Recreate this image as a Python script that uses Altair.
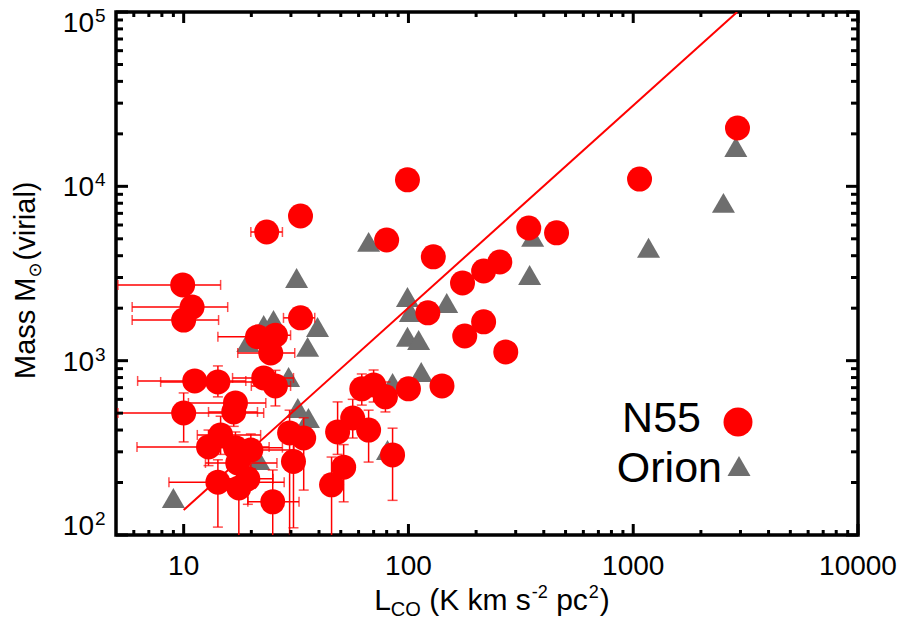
import altair as alt
import pandas as pd

# ---------------------------------------------------------------- data
# N55 clumps: CO luminosity and virial mass, with error ranges (None = no bar)
n55_L = [9.9, 10.9, 10.0, 23.4, 33.1, 80, 99, 129, 174, 216, 255, 343, 456, 1067, 2910,
         122, 216, 178, 271, 141, 100, 79, 70, 62, 33.1, 21.3, 25.6, 24.4, 22.7, 25.6,
         11.2, 14.2, 17.0, 16.7, 10.0, 14.6, 12.9, 17.0, 19.9, 17.4, 19.3, 14.2, 17.6,
         24.9, 30.8, 29.6, 34.2, 48.4, 56.5, 66.5, 85, 51.5, 45.5]
n55_M = [2720, 2030, 1710, 5470, 6760, 4920, 10900, 3940, 2790, 3270, 3680, 5770, 5410, 11000, 21600,
         1880, 1670, 1385, 1122, 716, 689, 620, 726, 689, 1760, 1370, 1400, 1107, 796, 716,
         765, 755, 572, 508, 501, 375, 320, 317, 307, 259, 210, 201, 186,
         155, 264, 385, 360, 390, 469, 400, 288, 245, 194]
n55_L_lo = [5.1, 5.9, 5.9, 19.9, None, None, None, None, None, None, None, None, None, None, None,
            None, None, None, None, None, None, None, None, None, 27.8, 14.2, 19.9, 17.4, 16.5, 20.0,
            6.24, 7.9, 10.5, 12.9, 5.1, 11.5, 6.2, 14.2, 15.7, 12.5, 15.0, 8.6, None,
            19.3, None, None, None, None, None, None, None, None, None]
n55_L_hi = [14.6, 15.7, 14.3, 27.5, None, None, None, None, None, None, None, None, None, None, None,
            None, None, None, None, None, None, None, None, None, 38.3, 28.4, 29.9, 31.2, 30.8, 29.9,
            18.9, 20.9, 23.2, 21.3, 22.7, 22.0, 24.0, 27.5, 31.0, 26.0, 25.0, 28.0, None,
            32.6, None, None, None, None, None, None, None, None, None]
n55_M_lo = [None, None, None, None, None, None, None, None, None, None, None, None, None, None, None,
            None, None, None, None, None, None, 508, 580, 556, None, None, None, None, None, 550,
            None, 620, None, 420, 342, 290, 250, 260, 240, 200, 150, 111, 80,
            80, 110, 80, 181, 290, 360, 262, 158, 155, 80]
n55_M_hi = [None, None, None, None, None, None, None, None, None, None, None, None, None, None, None,
            None, None, None, None, None, None, 755, 885, 839, None, None, None, None, None, 880,
            None, 933, None, 620, 653, 480, 400, 390, 380, 330, 270, 270, 260,
            236, 400, 520, 470, 580, 600, 520, 410, 330, 280]

# Orion clouds
orion_L = [2860, 2520, 1170, 66.5, 357, 346, 31.8, 99, 148, 102, 99, 111, 114,
           39.4, 35.6, 25.1, 22.7, 19.3, 29.3, 32.2, 35.9, 21.6, 80.7, 9.0, 85]
orion_M = [16800, 8040, 4440, 4800, 5130, 3100, 2980, 2320, 2140, 1900, 1370, 1315, 861,
           1560, 1200, 1710, 1600, 1280, 806, 535, 469, 269, 307, 163, 745]

# Fitted relation
fit_L = [10, 2900]
fit_M = [139, 100000]

# Axis ticks and labels
x_major = [10, 100, 1000, 10000]
x_labels = ["10", "100", "1000", "10000"]
x_minor = [6, 7, 8, 9, 20, 30, 40, 50, 60, 70, 80, 90, 200, 300, 400, 500, 600, 700, 800, 900,
           2000, 3000, 4000, 5000, 6000, 7000, 8000, 9000]
y_major = [100, 1000, 10000, 100000]
y_exponents = ["2", "3", "4", "5"]
y_minor = [200, 300, 400, 500, 600, 700, 800, 900, 2000, 3000, 4000, 5000, 6000, 7000, 8000, 9000,
           20000, 30000, 40000, 50000, 60000, 70000, 80000, 90000]

# ---------------------------------------------------------------- layout
W, H = 742, 523
RED = "#ff0000"
GREY = "#6e6e6e"
FONT = "Liberation Sans"

xs = alt.Scale(type="log", domain=[5, 10000], nice=False)
ys = alt.Scale(type="log", domain=[100, 100000], nice=False)

n55 = pd.DataFrame({"L": n55_L, "M": n55_M, "Llo": n55_L_lo, "Lhi": n55_L_hi,
                    "Mlo": n55_M_lo, "Mhi": n55_M_hi})
hbar = n55.dropna(subset=["Llo", "Lhi"])
vbar = n55.dropna(subset=["Mlo", "Mhi"])
orion = pd.DataFrame({"L": orion_L, "M": orion_M})
fit = pd.DataFrame({"L": fit_L, "M": fit_M})
one = pd.DataFrame({"k": [0]})


def X(field):
    return alt.X(f"{field}:Q", scale=xs, axis=None)


def Y(field):
    return alt.Y(f"{field}:Q", scale=ys, axis=None)


layers = []

# Orion triangles
layers.append(alt.Chart(orion).mark_point(shape="triangle-up", filled=True, size=530,
                                           color=GREY, opacity=1, strokeWidth=0)
              .encode(x=X("L"), y=Y("M")))

# fitted line
layers.append(alt.Chart(fit).mark_line(color=RED, strokeWidth=2, clip=True)
              .encode(x=X("L"), y=Y("M")))

# horizontal error bars with end caps
layers.append(alt.Chart(hbar).mark_rule(color=RED, strokeWidth=1.5, clip=True)
              .encode(x=X("Llo"), x2="Lhi:Q", y=Y("M")))
for end in ["Llo", "Lhi"]:
    layers.append(alt.Chart(hbar).mark_tick(color=RED, orient="vertical", size=10,
                                            thickness=1.5, clip=True)
                  .encode(x=X(end), y=Y("M")))

# vertical error bars with end caps
layers.append(alt.Chart(vbar).mark_rule(color=RED, strokeWidth=1.5, clip=True)
              .encode(x=X("L"), y=Y("Mlo"), y2="Mhi:Q"))
for end in ["Mlo", "Mhi"]:
    layers.append(alt.Chart(vbar).mark_tick(color=RED, orient="horizontal", size=10,
                                            thickness=1.5, clip=True)
                  .encode(x=X("L"), y=Y(end)))

# N55 circles
layers.append(alt.Chart(n55).mark_circle(size=625, color=RED, opacity=1)
              .encode(x=X("L"), y=Y("M")))


# inward ticks on all four sides
def ticks(values, side, length):
    df = pd.DataFrame({"v": values})
    ch = alt.Chart(df).mark_rule(color="black", strokeWidth=3)
    if side == "bottom":
        return ch.encode(x=X("v"), y=alt.value(H), y2=alt.value(H - length))
    if side == "top":
        return ch.encode(x=X("v"), y=alt.value(0), y2=alt.value(length))
    if side == "left":
        return ch.encode(y=Y("v"), x=alt.value(0), x2=alt.value(length))
    return ch.encode(y=Y("v"), x=alt.value(W), x2=alt.value(W - length))


for side in ["bottom", "top"]:
    layers.append(ticks(x_major, side, 11))
    layers.append(ticks(x_minor, side, 5))
for side in ["left", "right"]:
    layers.append(ticks(y_major, side, 12))
    layers.append(ticks(y_minor, side, 7))

# x tick labels
xlab = pd.DataFrame({"v": x_major, "t": x_labels})
layers.append(alt.Chart(xlab).mark_text(font=FONT, fontSize=28, align="center",
                                        baseline="alphabetic", color="black")
              .encode(x=X("v"), y=alt.value(563), text="t:N"))

# y tick labels: "10" with a raised exponent; end labels kept inside the frame
ylab = pd.DataFrame({"v": y_major, "e": y_exponents, "b": ["10"] * len(y_major)})
for cond, shift in [("datum.v > 100 && datum.v < 100000", 10),
                    ("datum.v == 100", 0), ("datum.v == 100000", 20)]:
    base = alt.Chart(ylab).transform_filter(cond)
    layers.append(base.mark_text(font=FONT, fontSize=28, align="right", baseline="alphabetic",
                                 dy=shift, color="black")
                  .encode(y=Y("v"), x=alt.value(-22), text="b:N"))
    layers.append(base.mark_text(font=FONT, fontSize=19, align="left", baseline="alphabetic",
                                 dy=shift - 10, color="black")
                  .encode(y=Y("v"), x=alt.value(-21), text="e:N"))

# composite axis titles (sub/superscripts placed piece by piece)
ADV = {" ": 0.278, "(": 0.333, ")": 0.333, "-": 0.333, "2": 0.556, "C": 0.722, "O": 0.778,
       "K": 0.667, "L": 0.556, "M": 0.833, "a": 0.556, "c": 0.5, "i": 0.222, "k": 0.5,
       "l": 0.222, "m": 0.833, "p": 0.556, "r": 0.333, "s": 0.5, "v": 0.5, "\u2299": 0.838}


def width(t, size):
    return sum(ADV.get(c, 0.6) for c in t) * size


XT = 30
SPACE = 0.278 * XT
# (text, font size, vertical shift, gap before)
x_title = [("L", XT, 0, 0), ("CO", 20, 6, 0), ("(K km s", XT, 0, SPACE), ("-2", 18, -12, 1),
           ("pc", XT, 0, SPACE), ("2", 18, -12, 1), (")", XT, 0, 1)]
total = sum(width(t, s) + g for t, s, _, g in x_title)
pos = 376 - total / 2
for t, s, sh, g in x_title:
    pos += g
    layers.append(alt.Chart(one).mark_text(text=t, font=FONT, fontSize=s, align="left",
                                           baseline="alphabetic", color="black")
                  .encode(x=alt.value(pos), y=alt.value(598 + sh)))
    pos += width(t, s)

YT = 29
y_title = [("Mass M", YT, 0, FONT), ("\u2299", 18, 6, "DejaVu Sans"), ("(virial)", YT, 0, FONT)]
pos = 367
for t, s, sh, f in y_title:
    layers.append(alt.Chart(one).mark_text(text=t, font=f, fontSize=s, align="left",
                                           baseline="alphabetic", angle=270, color="black")
                  .encode(x=alt.value(-81 + sh), y=alt.value(pos)))
    pos -= width(t, s) + (2 if f != FONT else 0)

# legend
layers.append(alt.Chart(one).mark_text(text="N55", font=FONT, fontSize=43, align="right",
                                       baseline="alphabetic", color="black")
              .encode(x=alt.value(585), y=alt.value(420)))
layers.append(alt.Chart(one).mark_text(text="Orion", font=FONT, fontSize=43, align="right",
                                       baseline="alphabetic", color="black")
              .encode(x=alt.value(606), y=alt.value(470)))
layers.append(alt.Chart(one).mark_circle(size=841, color=RED, opacity=1)
              .encode(x=alt.value(622), y=alt.value(410)))
layers.append(alt.Chart(one).mark_point(shape="triangle-up", filled=True, size=530,
                                        color=GREY, opacity=1, strokeWidth=0)
              .encode(x=alt.value(623), y=alt.value(454)))

chart = (alt.layer(*layers)
         .properties(width=W, height=H,
                     padding={"left": 116, "top": 12, "right": 46, "bottom": 87},
                     autosize=alt.AutoSizeParams(type="none"),
                     background="white")
         .configure_view(stroke="black", strokeWidth=3.5))

chart.save("out.html", embed_options={"renderer": "svg", "actions": False})
